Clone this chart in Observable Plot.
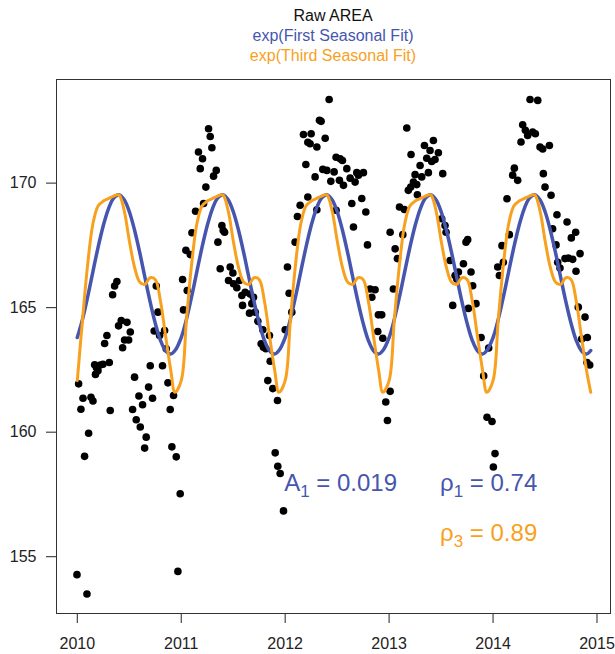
<!DOCTYPE html>
<html><head><meta charset="utf-8">
<script src="https://cdn.jsdelivr.net/npm/d3@7"></script>
<script src="https://cdn.jsdelivr.net/npm/@observablehq/plot@0.6"></script>
<style>
body{margin:0;background:#fff;font-family:"Liberation Sans",Arial,sans-serif;}
#title{width:615px;box-sizing:border-box;padding:6px 0 0 51px;text-align:center;font-size:16px;line-height:20px;height:66px;}
</style></head><body>
<div id="title"><div style="color:#111">Raw AREA</div><div style="color:#4656AE">exp(First Seasonal Fit)</div><div style="color:#F7A11E">exp(Third Seasonal Fit)</div></div>
<div id="chart"></div>
<script>
const BLUE = "#4656AE", ORANGE = "#F7A11E";
const xTicks = [2010, 2011, 2012, 2013, 2014, 2015];
const yTicks = [155, 160, 165, 170];

// raw AREA observations [year, value]
const raw2010 = [[2009.997,154.28],[2010.093,153.50],[2010.013,161.94],[2010.055,161.36],[2010.035,160.92],[2010.132,161.40],[2010.151,161.25],[2010.109,159.96],[2010.070,159.03],[2010.167,162.71],[2010.199,162.47],[2010.221,162.70],[2010.247,162.73],[2010.308,162.80],[2010.185,162.59],[2010.175,162.32],[2010.263,163.56],[2010.285,163.88],[2010.317,160.87],[2010.340,165.52],[2010.359,165.87],[2010.381,166.05],[2010.397,164.27],[2010.423,164.48],[2010.478,164.41],[2010.510,164.02],[2010.455,163.70],[2010.494,163.70],[2010.436,163.39],[2010.551,162.21],[2010.532,160.91],[2010.593,161.45],[2010.628,161.10],[2010.567,160.50],[2010.606,160.21],[2010.663,159.80],[2010.648,159.36],[2010.686,161.81],[2010.724,161.36],[2010.702,162.67],[2010.760,165.87],[2010.776,164.82],[2010.740,164.06],[2010.792,163.88],[2010.840,164.08],[2010.856,163.35],[2010.820,162.67],[2010.872,161.98],[2010.926,161.47],[2010.894,160.91],[2010.910,159.41],[2010.952,159.01],[2010.990,157.53],[2010.968,154.41]];
const raw2011 = [[2011.013,166.13],[2011.058,165.69],[2011.022,164.91],[2011.045,167.30],[2011.087,167.13],[2011.103,168.01],[2011.138,168.87],[2011.215,169.18],[2011.237,169.84],[2011.311,170.28],[2011.337,170.51],[2011.183,170.58],[2011.205,170.98],[2011.166,171.25],[2011.295,171.42],[2011.279,171.87],[2011.263,172.18],[2011.391,168.30],[2011.404,168.10],[2011.417,168.03],[2011.353,167.63],[2011.375,166.56],[2011.471,166.63],[2011.497,166.39],[2011.455,166.09],[2011.503,165.96],[2011.535,165.80],[2011.561,166.09],[2011.583,165.49],[2011.615,165.62],[2011.590,165.09],[2011.663,165.55],[2011.695,165.42],[2011.679,165.16],[2011.657,164.78],[2011.712,164.82],[2011.737,164.45],[2011.785,164.11],[2011.849,163.88],[2011.769,163.55],[2011.791,163.41],[2011.814,163.35],[2011.856,162.85],[2011.833,162.07],[2011.881,161.75],[2011.926,161.27],[2011.904,159.17],[2011.929,158.63],[2011.952,158.34],[2011.984,156.84]];
const raw2012 = [[2012.000,164.11],[2012.022,166.63],[2012.038,165.58],[2012.064,164.82],[2012.096,167.63],[2012.118,168.66],[2012.144,169.11],[2012.218,169.44],[2012.305,168.93],[2012.199,170.75],[2012.176,171.95],[2012.218,171.64],[2012.250,171.98],[2012.240,171.58],[2012.288,170.25],[2012.305,171.45],[2012.330,172.52],[2012.423,173.36],[2012.346,172.48],[2012.385,171.80],[2012.490,171.04],[2012.529,170.98],[2012.551,170.91],[2012.362,170.55],[2012.401,170.51],[2012.471,170.45],[2012.439,170.07],[2012.522,170.11],[2012.561,169.91],[2012.593,170.58],[2012.625,170.20],[2012.673,170.04],[2012.705,170.32],[2012.753,170.42],[2012.689,170.42],[2012.641,169.18],[2012.737,169.38],[2012.776,168.84],[2012.490,168.91],[2012.657,168.24],[2012.792,167.52],[2012.817,165.75],[2012.865,165.72],[2012.834,165.42],[2012.897,164.71],[2012.929,164.71],[2012.891,164.04],[2012.939,163.77],[2012.968,161.21],[2012.984,160.47]];
const raw2013 = [[2013.010,168.03],[2013.041,165.75],[2013.058,167.36],[2013.080,166.97],[2013.100,169.04],[2013.147,168.94],[2013.132,167.93],[2013.010,161.64],[2013.170,172.21],[2013.211,171.15],[2013.340,171.51],[2013.426,171.71],[2013.394,171.31],[2013.474,171.22],[2013.362,171.00],[2013.410,170.87],[2013.442,170.95],[2013.298,170.71],[2013.378,170.42],[2013.250,170.34],[2013.314,170.25],[2013.234,170.04],[2013.208,169.84],[2013.185,169.71],[2013.266,169.94],[2013.516,170.38],[2013.272,169.53],[2013.506,168.57],[2013.538,168.30],[2013.548,168.03],[2013.587,166.89],[2013.635,166.29],[2013.612,165.09],[2013.667,166.43],[2013.651,166.15],[2013.715,166.76],[2013.740,167.63],[2013.756,167.73],[2013.788,166.43],[2013.804,165.88],[2013.836,165.16],[2013.763,164.97],[2013.885,163.80],[2013.958,163.38],[2013.910,162.26],[2013.942,160.60],[2013.990,160.43]];
const raw2014 = [[2014.019,159.14],[2014.003,158.60],[2014.045,166.63],[2014.061,166.29],[2014.099,166.82],[2014.086,167.49],[2014.157,167.93],[2014.134,169.37],[2014.205,170.60],[2014.189,170.32],[2014.237,170.11],[2014.269,171.65],[2014.285,172.34],[2014.311,172.12],[2014.333,171.91],[2014.381,172.05],[2014.407,171.98],[2014.356,173.36],[2014.430,173.32],[2014.452,171.45],[2014.478,171.37],[2014.542,171.51],[2014.484,170.38],[2014.500,169.84],[2014.558,169.51],[2014.615,168.73],[2014.712,168.44],[2014.573,168.17],[2014.795,168.03],[2014.753,167.80],[2014.606,167.52],[2014.622,166.82],[2014.692,166.97],[2014.724,166.99],[2014.766,166.94],[2014.837,167.17],[2014.644,166.59],[2014.798,166.46],[2014.820,165.02],[2014.885,164.62],[2014.907,163.80],[2014.853,163.74],[2014.930,162.70],[2014.904,162.80]];

// fitted seasonal curves, read at 0.05-year steps within each year
const fitYears = [2010, 2011, 2012, 2013, 2014];
const fitFractions = [0, 0.05, 0.10, 0.15, 0.20, 0.25, 0.30, 0.35, 0.40, 0.45, 0.50, 0.55, 0.60, 0.65, 0.70, 0.75, 0.80, 0.85, 0.90, 0.94];
const firstFitYearly = [163.80, 164.53, 165.44, 166.44, 167.42, 168.29, 168.97, 169.40, 169.53, 169.34, 168.86, 168.13, 167.23, 166.23, 165.25, 164.38, 163.69, 163.27, 163.14, 163.28];
const thirdFitYearly = [162.07, 164.50, 166.74, 168.36, 169.08, 169.28, 169.38, 169.48, 169.53, 168.92, 167.70, 166.64, 166.03, 165.93, 166.20, 166.13, 165.27, 163.85, 162.47, 161.60];

// annotations
const annoBase = ["A", "ρ", "ρ"];
const annoSub = ["1", "1", "3"];
const annoValue = ["0.019", "0.74", "0.89"];
const annoX = [2011.99, 2013.49, 2013.49];
const annoY = [157.95, 157.95, 155.93];
const annoColor = [BLUE, BLUE, ORANGE];

const raw = [...raw2010, ...raw2011, ...raw2012, ...raw2013, ...raw2014].map(([t, v]) => ({t, v}));
const fit = [];
fitYears.forEach(y => fitFractions.forEach((f, i) => fit.push({t: y + f, first: firstFitYearly[i], third: thirdFitYearly[i]})));
const annos = annoBase.map((b, i) => ({base: b, sub: annoSub[i], value: annoValue[i], x: annoX[i], y: annoY[i], color: annoColor[i]}));

const chart = Plot.plot({
  width: 615, height: 588,
  marginLeft: 56, marginRight: 5, marginTop: 13, marginBottom: 41,
  style: {fontFamily: '"Liberation Sans", Arial, sans-serif', fontSize: "16px", color: "#222", background: "white", overflow: "visible"},
  x: {domain: [2009.8, 2015.13]},
  y: {domain: [152.72, 174.16]},
  marks: [
    Plot.axisX(xTicks, {tickSize: 10, tickPadding: 14, tickFormat: d => String(d), label: null, fontSize: 16}),
    Plot.axisY(yTicks, {tickSize: 10, tickPadding: 10, label: null, fontSize: 16}),
    Plot.dot(raw, {x: "t", y: "v", r: 3.8, fill: "#000", stroke: null}),
    Plot.line(fit, {x: "t", y: "first", stroke: BLUE, strokeWidth: 3.5, curve: "catmull-rom"}),
    Plot.line(fit, {x: "t", y: "third", stroke: ORANGE, strokeWidth: 3, curve: "catmull-rom"}),
    Plot.text(annos, {x: "x", y: "y", text: d => d.base + d.sub + " = " + d.value, fill: "color", textAnchor: "start", fontSize: 24}),
    Plot.frame({stroke: "#333", strokeWidth: 1})
  ]
});

// rebuild annotation labels with subscripts
const NS = "http://www.w3.org/2000/svg";
chart.querySelectorAll('g[aria-label="text"] text').forEach((el, i) => {
  const a = annos[i];
  if (!a) return;
  el.textContent = "";
  const t1 = document.createElementNS(NS, "tspan"); t1.textContent = a.base;
  const t2 = document.createElementNS(NS, "tspan"); t2.textContent = a.sub; t2.setAttribute("font-size", "17"); t2.setAttribute("dy", "6");
  const t3 = document.createElementNS(NS, "tspan"); t3.textContent = " = " + a.value; t3.setAttribute("dy", "-6");
  el.append(t1, t2, t3);
});

document.getElementById("chart").append(chart);
</script>
</body></html>
